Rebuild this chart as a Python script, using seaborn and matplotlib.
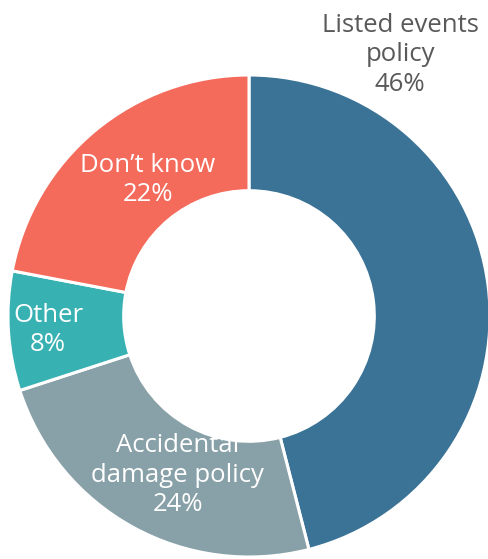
import matplotlib
matplotlib.use("Agg")
import matplotlib.pyplot as plt
import seaborn as sns

categories = ["Listed events\npolicy", "Accidental\ndamage policy", "Other", "Don\u2019t know"]
values = [46, 24, 8, 22]
colors = ["#3B7397", "#88A0A7", "#38B1B3", "#F46A5B"]
label_colors = ["#595959", "white", "white", "white"]
label_pos = [(0.627, 1.083), (-0.295, -0.66), (-0.834, -0.058), (-0.419, 0.564)]

sns.set_theme(style="white")
plt.rcParams['font.family'] = ['Open Sans', 'DejaVu Sans']

fig = plt.figure(figsize=(4.88, 5.59), dpi=100)
ax = fig.add_axes([0, 0, 1, 1])
ax.pie(values, colors=colors, startangle=90, counterclock=False, radius=1,
       wedgeprops=dict(width=0.48, edgecolor="white", linewidth=2.2))
for cat, v, c, (x, y) in zip(categories, values, label_colors, label_pos):
    ax.text(x, y, f"{cat}\n{v}%", ha="center", va="center", color=c,
            fontsize=18.5, fontweight="normal", linespacing=1.25)
ax.set_xlim(-249/241, (488-249)/241)
ax.set_ylim(-(559-316)/241, 316/241)
ax.set_aspect("auto")
ax.axis("off")
fig.savefig("out.png", dpi=100)
